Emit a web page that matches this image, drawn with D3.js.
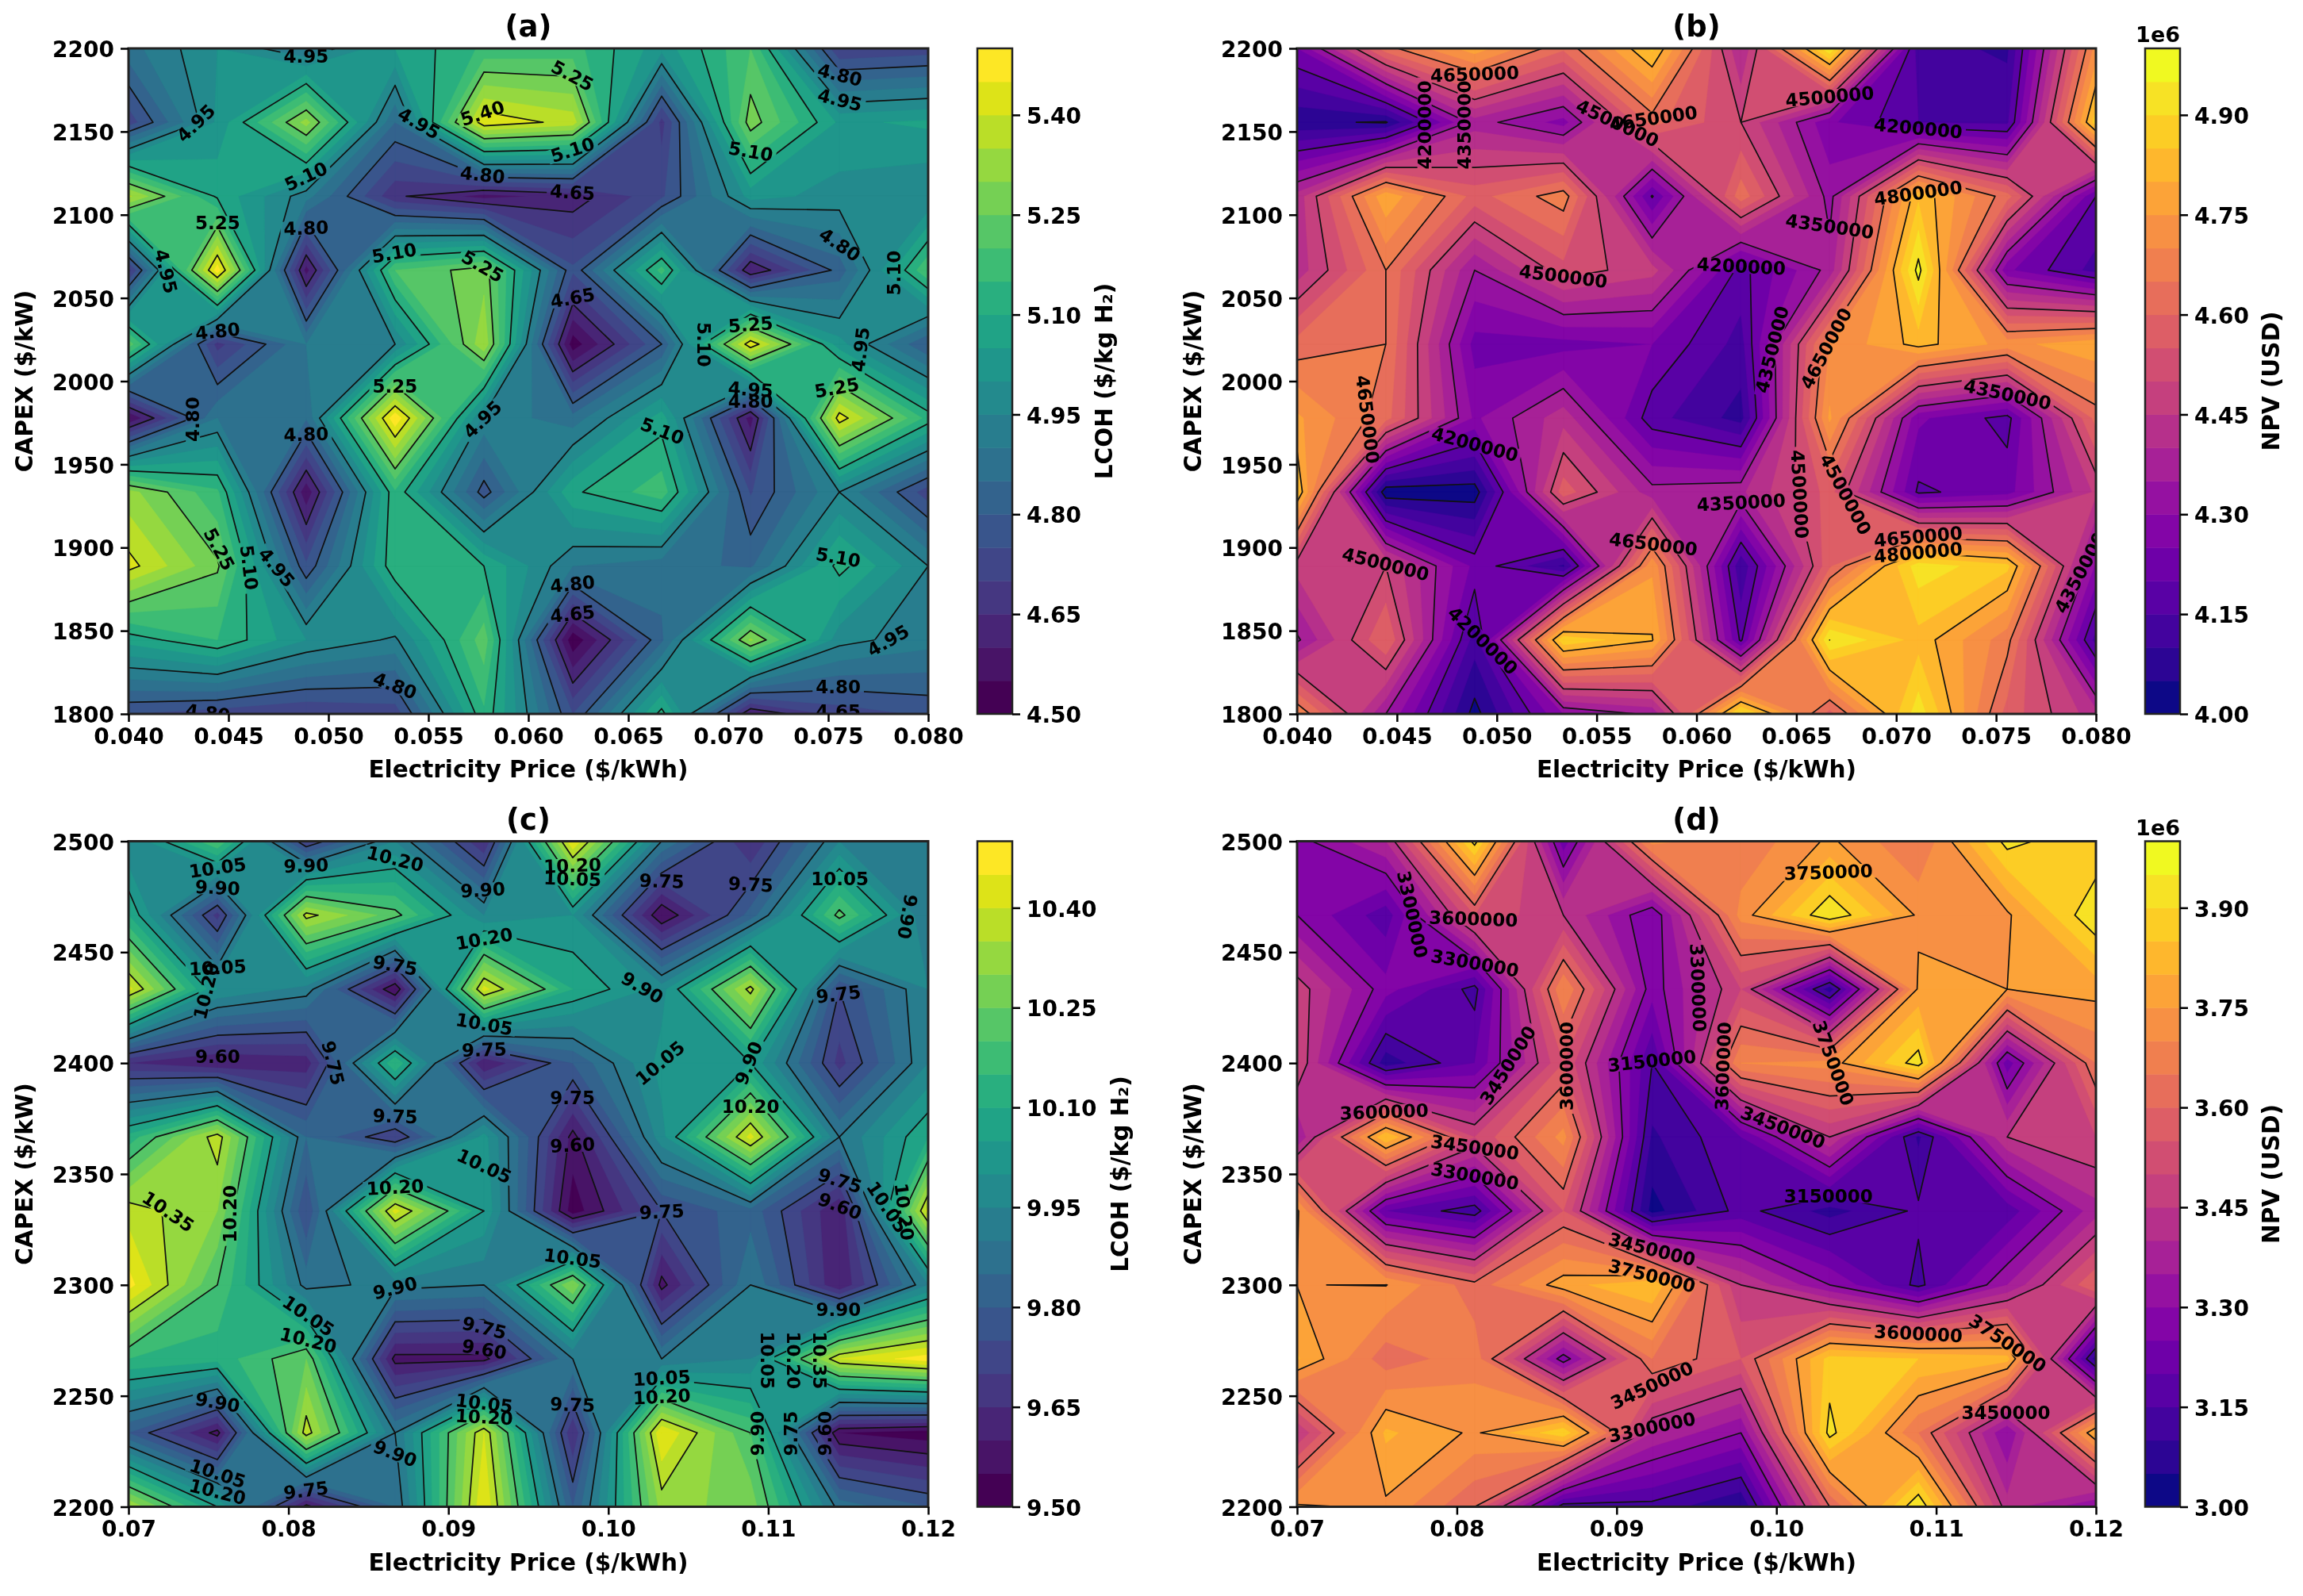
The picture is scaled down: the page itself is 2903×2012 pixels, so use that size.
<!DOCTYPE html>
<html>
<head>
<meta charset="utf-8">
<script src="https://cdn.jsdelivr.net/npm/d3@7"></script>
<style>
  html, body { margin: 0; background: #fff; }
  svg { filter: blur(0.6px); }
  text { font-family: "DejaVu Sans", sans-serif; font-weight: bold; fill: #000; }
  .tick line { stroke: #000; stroke-width: 2.5; }
  .tick text { font-size: 28px; }
  .clabel { font-size: 23px; text-anchor: middle; dominant-baseline: central; }
</style>
</head>
<body>
<svg id="fig" width="2903" height="2012"></svg>
<script>
// grids are written top row first, same way they look on the picture
const gridA = [
  [4.88, 5.00, 4.90, 5.05, 5.16, 5.17, 5.02, 5.20, 4.70, 4.72],
  [4.72, 5.01, 5.32, 4.85, 5.44, 5.38, 4.68, 5.28, 5.04, 5.06],
  [5.36, 5.09, 4.92, 4.66, 4.58, 4.62, 4.74, 5.02, 4.98, 4.95],
  [4.68, 5.48, 4.58, 5.20, 5.28, 4.76, 5.17, 4.60, 4.82, 5.20],
  [5.23, 4.68, 4.90, 4.95, 5.34, 4.52, 4.80, 5.44, 5.02, 4.80],
  [4.55, 4.90, 4.855, 5.49, 4.935, 4.87, 5.075, 4.575, 5.43, 5.13],
  [5.32, 5.16, 4.564, 5.14, 4.775, 5.09, 5.18, 4.745, 4.95, 4.72],
  [5.42, 5.26, 4.76, 5.14, 5.10, 4.90, 4.87, 4.84, 5.12, 4.95],
  [5.07, 5.15, 5.00, 4.94, 5.23, 4.51, 4.84, 5.31, 4.97, 4.92],
  [4.75, 4.72, 4.70, 4.72, 5.14, 4.75, 5.12, 4.60, 4.72, 4.76]
];
const gridB = [
  [4.25, 4.63, 4.78, 4.61, 4.86, 4.40, 4.95, 4.12, 4.09, 4.72],
  [4.06, 4.045, 4.375, 4.28, 4.62, 4.50, 4.26, 4.15, 4.14, 4.88],
  [4.42, 4.79, 4.58, 4.68, 4.195, 4.63, 4.33, 4.84, 4.62, 4.20],
  [4.42, 4.65, 4.35, 4.53, 4.47, 4.18, 4.37, 4.97, 4.26, 4.13],
  [4.62, 4.65, 4.23, 4.23, 4.25, 4.13, 4.70, 4.82, 4.73, 4.79],
  [4.76, 4.62, 4.29, 4.43, 4.17, 4.08, 4.76, 4.26, 4.18, 4.62],
  [4.85, 4.01, 4.02, 4.58, 4.37, 4.39, 4.57, 4.19, 4.23, 4.46],
  [4.47, 4.50, 4.235, 4.09, 4.74, 4.11, 4.59, 4.93, 4.865, 4.29],
  [4.34, 4.60, 4.125, 4.89, 4.805, 4.19, 4.95, 4.83, 4.67, 4.13],
  [4.70, 4.35, 4.03, 4.30, 4.36, 4.92, 4.58, 4.93, 4.58, 4.42]
];
const gridC = [
  [9.95, 10.20, 9.70, 9.95, 9.65, 10.45, 9.90, 9.65, 9.95, 9.92],
  [10.10, 9.68, 10.37, 10.22, 9.95, 10.00, 9.55, 9.82, 10.22, 9.90],
  [10.42, 10.00, 9.93, 9.55, 10.42, 10.10, 9.98, 10.37, 9.75, 9.95],
  [9.65, 9.60, 9.62, 10.15, 9.60, 9.80, 10.02, 10.05, 9.68, 9.95],
  [10.12, 10.38, 9.85, 9.70, 10.02, 9.58, 9.98, 10.42, 9.90, 10.10],
  [10.38, 10.30, 9.75, 10.42, 10.05, 9.52, 9.75, 9.83, 9.60, 10.42],
  [10.47, 10.20, 9.88, 9.92, 9.90, 10.30, 9.58, 9.90, 9.60, 9.95],
  [10.15, 10.12, 10.25, 9.58, 9.58, 9.90, 9.90, 9.95, 10.40, 10.48],
  [9.80, 9.58, 10.38, 9.90, 10.40, 9.65, 10.45, 10.20, 9.55, 9.52],
  [10.35, 10.05, 9.58, 9.85, 10.45, 9.80, 10.32, 10.28, 9.88, 9.80]
];
const gridD = [
  [3.28, 3.40, 3.92, 3.22, 3.72, 3.66, 3.76, 3.65, 3.92, 3.85],
  [3.30, 3.17, 3.55, 3.45, 3.25, 3.72, 3.95, 3.74, 3.74, 3.95],
  [3.48, 3.27, 3.13, 3.70, 3.27, 3.50, 3.07, 3.76, 3.75, 3.77],
  [3.50, 3.07, 3.20, 3.55, 3.15, 3.70, 3.72, 3.93, 3.22, 3.65],
  [3.35, 3.85, 3.50, 3.72, 3.09, 3.20, 3.45, 3.09, 3.45, 3.50],
  [3.76, 3.20, 3.12, 3.55, 3.03, 3.17, 3.08, 3.16, 3.17, 3.38],
  [3.749, 3.752, 3.62, 3.78, 3.85, 3.45, 3.30, 3.134, 3.35, 3.60],
  [3.806, 3.62, 3.68, 3.27, 3.65, 3.55, 3.87, 3.85, 3.82, 3.07],
  [3.45, 3.81, 3.74, 3.89, 3.40, 3.30, 3.92, 3.65, 3.30, 3.80],
  [3.76, 3.74, 3.60, 3.12, 3.13, 3.05, 3.60, 3.95, 3.42, 3.30]
];

const linesA = [4.65, 4.80, 4.95, 5.10, 5.25, 5.40];
const linesB = [4.05, 4.20, 4.35, 4.50, 4.65, 4.80, 4.95];
const linesC = [9.60, 9.75, 9.90, 10.05, 10.20, 10.35];
const linesD = [3.15, 3.30, 3.45, 3.60, 3.75, 3.90];

const xTicksTop = [0.040, 0.045, 0.050, 0.055, 0.060, 0.065, 0.070, 0.075, 0.080];
const xTicksBottom = [0.07, 0.08, 0.09, 0.10, 0.11, 0.12];
const yTicksTop = [1800, 1850, 1900, 1950, 2000, 2050, 2100, 2150, 2200];
const yTicksBottom = [2200, 2250, 2300, 2350, 2400, 2450, 2500];
const barTicksA = [4.50, 4.65, 4.80, 4.95, 5.10, 5.25, 5.40];
const barTicksB = [4.00, 4.15, 4.30, 4.45, 4.60, 4.75, 4.90];
const barTicksC = [9.50, 9.65, 9.80, 9.95, 10.10, 10.25, 10.40];
const barTicksD = [3.00, 3.15, 3.30, 3.45, 3.60, 3.75, 3.90];

// inline contour labels: price, capex, level, rotation
const labelsA = [
  [.04888,2195,4.95,0],[.0622,2183.6,5.25,28],[.07558,2184,4.80,14],[.07558,2169,4.95,14],
  [.04337,2155,4.95,-44],[.05453,2155,4.95,30],[.05771,2161,5.40,-18],[.06221,2139,5.10,-18],
  [.07112,2138,5.10,10],[.04888,2123,5.10,-25],[.05771,2124,4.80,6],[.06221,2113.5,4.65,4],
  [.04446,2095,5.25,0],[.04888,2092,4.80,-2],[.07558,2082,4.80,34],[.04187,2066,4.95,76],
  [.05329,2077,5.10,-10],[.05771,2069,5.25,30],[.07831,2065,5.10,-90],[.06221,2050,4.65,-10],
  [.07112,2034,5.25,-4],[.06876,2022,5.10,90],[.04446,2030,4.80,-6],[.07662,2019,4.95,-83],
  [.07112,1995,4.95,4],[.07112,1988,4.80,0],[.07543,1996,5.25,-10],[.05333,1997,5.25,0],
  [.04322,1977,4.80,-90],[.04888,1968,4.80,-2],[.05771,1977,4.95,-44],[.0667,1970,5.10,21],
  [.04453,1899,5.25,62],[.04603,1888,5.10,83],[.04741,1888,4.95,50],[.0755,1894,5.10,10],
  [.06221,1878,4.80,-6],[.06221,1860,4.65,-6],[.0780,1844,4.95,-30],[.05333,1817,4.80,21],
  [.0755,1816,4.80,0],[.0755,1801.5,4.65,0],[.04397,1800.6,4.80,7]
];
const labelsB = [
  [.0489,2184.5,4.65,-2],[.04638,2154,4.20,-90],[.0484,2154,4.35,-90],[.05604,2155,4.50,25],
  [.05784,2158,4.65,-8],[.06667,2171,4.50,-5],[.0711,2152,4.20,5],[.0711,2113,4.80,-8],
  [.06667,2093,4.35,8],[.05333,2063,4.50,7],[.06224,2069,4.20,3],[.06379,2019,4.35,-76],
  [.06649,2019.6,4.65,-62],[.04353,1977,4.65,83],[.07557,1992,4.35,12],[.0489,1962,4.20,15],
  [.06516,1932,4.50,87],[.06746,1932,4.50,62],[.06224,1927,4.35,-3],[.05784,1902,4.65,7],
  [.0711,1906.5,4.65,-5],[.0711,1897,4.80,-5],[.04443,1890,4.50,14],[.07921,1885,4.35,-62],
  [.0493,1844,4.20,44]
];
const labelsC = [
  [.07557,2488,10.05,-8],[.07557,2479,9.90,3],[.0811,2489,9.90,-2],[.08667,2492,10.20,14],
  [.09776,2489,10.20,-2],[.09776,2483,10.05,2],[.09215,2478,9.90,-3],[.10334,2482,9.75,2],
  [.1089,2480.5,9.75,3],[.11448,2483,10.05,0],[.1187,2466,9.90,100],[.09224,2456,10.20,-10],
  [.07557,2443,10.05,-3],[.07487,2432.5,10.20,-76],[.08667,2444,9.75,10],[.10212,2434,9.90,30],
  [.11439,2431,9.75,-7],[.09224,2417.5,10.05,10],[.09224,2406,9.75,-2],[.07557,2403,9.60,0],
  [.08278,2400,9.75,76],[.10324,2400,10.05,-40],[.10877,2400,9.90,-68],[.09776,2384.5,9.75,0],
  [.08667,2376,9.75,2],[.1089,2380.5,10.20,0],[.09776,2363,9.60,-3],[.09224,2353.5,10.05,25],
  [.08667,2344,10.20,-3],[.07637,2332,10.20,-90],[.07248,2333,10.35,34],[.10334,2333,9.75,-3],
  [.11448,2347,9.75,18],[.11448,2335.5,9.60,21],[.11743,2335,10.05,56],[.1185,2333,10.20,83],
  [.09776,2312,10.05,7],[.08667,2298.6,9.90,-14],[.11439,2288.7,9.90,0],[.08124,2286,10.05,34],
  [.08124,2275,10.20,14],[.09224,2280.6,9.75,14],[.09224,2271,9.60,10],[.10994,2266,10.05,90],
  [.11158,2266,10.20,90],[.11322,2266,10.35,90],[.10334,2258,10.05,-3],[.10334,2249.6,10.20,-3],
  [.07557,2247,9.90,10],[.09224,2246.6,10.05,7],[.09224,2240.4,10.20,3],[.09776,2246,9.75,2],
  [.10933,2233,9.90,-90],[.11144,2233,9.75,-90],[.11354,2233,9.60,-90],[.08667,2224,9.90,21],
  [.07557,2215,10.05,18],[.07557,2206.7,10.20,14],[.0811,2207.4,9.75,-7]
];
const labelsD = [
  [.07721,2467,3.30,78],[.08104,2465,3.60,2],[.08113,2445,3.30,10],[.10325,2486,3.75,-2],
  [.09509,2434,3.30,88],[.10356,2400,3.75,70],[.09667,2398.6,3.60,-88],[.09221,2401,3.15,-6],
  [.0832,2399,3.45,-58],[.08689,2398.6,3.60,-90],[.07545,2378,3.60,-2],[.08113,2362,3.45,8],
  [.08113,2349,3.30,10],[.10041,2371,3.45,21],[.10325,2340,3.15,0],[.09221,2316,3.45,14],
  [.09221,2304,3.75,14],[.10888,2278,3.60,3],[.11447,2273.7,3.75,34],[.09221,2254.7,3.45,-25],
  [.09221,2235.8,3.30,-12],[.11437,2242.5,3.45,0]
];

const svg = d3.select('#fig');
const fmt2 = v => v.toFixed(2);
const fmtUsd = v => String(Math.round(v * 1e6));

// marching squares with saddles settled by the cell mean, the way matplotlib does.
// d3.contours always breaks saddles the same way and joins the wrong peaks here.
function walkCells(rows, t, onCell) {
  const n = rows.length;
  for (let j = 0; j < n - 1; j++) {
    for (let i = 0; i < n - 1; i++) {
      const c = [[i, j], [i + 1, j], [i + 1, j + 1], [i, j + 1]];
      const z = c.map(q => rows[q[1]][q[0]]);
      const cross = k => {
        const m = (k + 1) % 4;
        if ((z[k] >= t) === (z[m] >= t)) return null;
        const f = (t - z[k]) / (z[m] - z[k]);
        return [c[k][0] + f * (c[m][0] - c[k][0]), c[k][1] + f * (c[m][1] - c[k][1])];
      };
      onCell(c, z, cross, d3.mean(z) >= t);
    }
  }
}

function drawPoly(ctx, pts, sx, sy) {
  pts.forEach((q, i) => i ? ctx.lineTo(sx(q[0]), sy(q[1])) : ctx.moveTo(sx(q[0]), sy(q[1])));
  ctx.closePath();
}

function bandPath(rows, t, sx, sy) {
  const ctx = d3.path();
  walkCells(rows, t, (c, z, cross, midUp) => {
    const up = z.map(v => v >= t);
    if (!up.some(Boolean)) return;
    const saddle = up[0] === up[2] && up[1] === up[3] && up[0] !== up[1];
    if (saddle && !midUp) {
      // two separate corners
      up.forEach((u, k) => {
        if (u) drawPoly(ctx, [c[k], cross(k), cross((k + 3) % 4)], sx, sy);
      });
      return;
    }
    const pts = [];
    for (let k = 0; k < 4; k++) {
      if (up[k]) pts.push(c[k]);
      const e = cross(k);
      if (e) pts.push(e);
    }
    drawPoly(ctx, pts, sx, sy);
  });
  return ctx.toString();
}

function linePath(rows, t, sx, sy) {
  const ctx = d3.path();
  const seg = (a, b) => { ctx.moveTo(sx(a[0]), sy(a[1])); ctx.lineTo(sx(b[0]), sy(b[1])); };
  walkCells(rows, t, (c, z, cross, midUp) => {
    const e = [0, 1, 2, 3].map(cross);
    const hit = e.filter(Boolean);
    if (hit.length === 2) seg(hit[0], hit[1]);
    else if (hit.length === 4) {
      // edge k runs from corner k; keep the above corners together if the mean is above
      const pair = (z[0] >= t) === midUp;
      if (pair) { seg(e[0], e[1]); seg(e[2], e[3]); }
      else { seg(e[3], e[0]); seg(e[1], e[2]); }
    }
  });
  return ctx.toString();
}

function drawPanel(p) {
  const x = d3.scaleLinear().domain(p.xDomain).range([p.left, p.left + p.w]);
  const y = d3.scaleLinear().domain(p.yDomain).range([p.top + p.h, p.top]);
  const g = svg.append('g');

  g.append('clipPath').attr('id', `clip-${p.id}`)
    .append('rect').attr('x', p.left).attr('y', p.top).attr('width', p.w).attr('height', p.h);

  const n = p.grid.length;
  const rows = p.grid.slice().reverse();
  const gx = d3.scaleLinear().domain([0, n - 1]).range(x.range());
  const gy = d3.scaleLinear().domain([0, n - 1]).range(y.range());

  const fillLevels = d3.range(20).map(i => p.vmin + i * (p.vmax - p.vmin) / 20);
  const plot = g.append('g').attr('clip-path', `url(#clip-${p.id})`);
  plot.selectAll('path.band')
    .data(fillLevels)
    .join('path')
      .attr('class', 'band')
      .attr('d', t => bandPath(rows, t, gx, gy))
      .attr('fill', (d, i) => p.cmap(i / 19))
      .attr('stroke', (d, i) => p.cmap(i / 19))
      .attr('stroke-width', 0.4);

  // labels first so the line mask can use their measured size
  const labels = plot.append('g');
  const texts = labels.selectAll('text')
    .data(p.labels)
    .join('text')
      .attr('class', 'clabel')
      .attr('transform', d => `translate(${x(d[0])},${y(d[1])}) rotate(${d[3]})`)
      .text(d => p.labelFmt(d[2]));

  const mask = g.append('mask').attr('id', `gaps-${p.id}`)
    .attr('maskUnits', 'userSpaceOnUse')
    .attr('x', p.left).attr('y', p.top).attr('width', p.w).attr('height', p.h);
  mask.append('rect').attr('x', p.left).attr('y', p.top).attr('width', p.w).attr('height', p.h).attr('fill', '#fff');
  texts.each(function(d) {
    const len = this.getComputedTextLength() + 8;
    mask.append('rect')
      .attr('x', -len / 2).attr('y', -9).attr('width', len).attr('height', 18)
      .attr('fill', '#000')
      .attr('transform', `translate(${x(d[0])},${y(d[1])}) rotate(${d[3]})`);
  });

  plot.insert('g', 'g').attr('mask', `url(#gaps-${p.id})`)
    .selectAll('path')
    .data(p.lines)
    .join('path')
      .attr('d', t => linePath(rows, t, gx, gy))
      .attr('fill', 'none')
      .attr('stroke', '#111')
      .attr('stroke-linecap', 'round')
      .attr('stroke-width', 1.7);

  g.append('rect').attr('x', p.left).attr('y', p.top).attr('width', p.w).attr('height', p.h)
    .attr('fill', 'none').attr('stroke', '#222').attr('stroke-width', 3);

  const xAxis = g.append('g').attr('transform', `translate(0,${p.top + p.h})`)
    .call(d3.axisBottom(x).tickValues(p.xTicks).tickFormat(p.xFmt).tickSizeInner(10).tickSizeOuter(0).tickPadding(8));
  xAxis.select('.domain').remove();
  const yAxis = g.append('g').attr('transform', `translate(${p.left},0)`)
    .call(d3.axisLeft(y).tickValues(p.yTicks).tickFormat(d3.format('d')).tickSizeInner(10).tickSizeOuter(0).tickPadding(8));
  yAxis.select('.domain').remove();
  yAxis.selectAll('text').attr('dy', '0.38em');

  g.append('text').attr('x', p.left + p.w / 2).attr('y', p.top - 15)
    .attr('text-anchor', 'middle').attr('font-size', 37).text(p.title);
  g.append('text').attr('x', p.left + p.w / 2).attr('y', p.top + p.h + 80)
    .attr('text-anchor', 'middle').attr('font-size', 29.5).text('Electricity Price ($/kWh)');
  g.append('text').attr('transform', `translate(${p.left - 131},${p.top + p.h / 2}) rotate(-90)`)
    .attr('text-anchor', 'middle').attr('dominant-baseline', 'central').attr('font-size', 29.5).text('CAPEX ($/kW)');

  // colorbar
  const barX = p.left + p.w + 62, barW = 44;
  const c = d3.scaleLinear().domain([p.vmin, p.vmax]).range([p.top + p.h, p.top]);
  g.append('g').selectAll('rect')
    .data(fillLevels)
    .join('rect')
      .attr('x', barX).attr('width', barW)
      .attr('y', d => c(d + (p.vmax - p.vmin) / 20))
      .attr('height', (p.h / 20) + 0.5)
      .attr('fill', (d, i) => p.cmap(i / 19));
  g.append('rect').attr('x', barX).attr('y', p.top).attr('width', barW).attr('height', p.h)
    .attr('fill', 'none').attr('stroke', '#222').attr('stroke-width', 2.5);
  const barAxis = g.append('g').attr('transform', `translate(${barX + barW},0)`)
    .call(d3.axisRight(c).tickValues(p.barTicks).tickFormat(fmt2).tickSizeInner(10).tickSizeOuter(0).tickPadding(8));
  barAxis.select('.domain').remove();
  barAxis.selectAll('text').attr('dy', '0.38em');
  g.append('text').attr('transform', `translate(${barX + barW + p.barLabelGap},${p.top + p.h / 2}) rotate(-90)`)
    .attr('text-anchor', 'middle').attr('dominant-baseline', 'central').attr('font-size', 29.5).text(p.barLabel);
  if (p.offset) {
    g.append('text').attr('x', barX + barW).attr('y', p.top - 8)
      .attr('text-anchor', 'end').attr('font-size', 27).text(p.offset);
  }
}

const hPlot = 839, wA = 1008, wB = 1007;
drawPanel({ id: 'a', title: '(a)', left: 162, top: 61, w: wA, h: hPlot, grid: gridA,
  xDomain: [0.04, 0.08], yDomain: [1800, 2200], xTicks: xTicksTop, yTicks: yTicksTop, xFmt: d3.format('.3f'),
  vmin: 4.5, vmax: 5.5, cmap: d3.interpolateViridis, lines: linesA, labels: labelsA, labelFmt: fmt2,
  barTicks: barTicksA, barLabel: 'LCOH ($/kg H\u2082)', barLabelGap: 116 });
drawPanel({ id: 'b', title: '(b)', left: 1635, top: 61, w: wB, h: hPlot, grid: gridB,
  xDomain: [0.04, 0.08], yDomain: [1800, 2200], xTicks: xTicksTop, yTicks: yTicksTop, xFmt: d3.format('.3f'),
  vmin: 4.0, vmax: 5.0, cmap: d3.interpolatePlasma, lines: linesB, labels: labelsB, labelFmt: fmtUsd,
  barTicks: barTicksB, barLabel: 'NPV (USD)', barLabelGap: 115, offset: '1e6' });
drawPanel({ id: 'c', title: '(c)', left: 162, top: 1060.5, w: wA, h: hPlot, grid: gridC,
  xDomain: [0.07, 0.12], yDomain: [2200, 2500], xTicks: xTicksBottom, yTicks: yTicksBottom, xFmt: d3.format('.2f'),
  vmin: 9.5, vmax: 10.5, cmap: d3.interpolateViridis, lines: linesC, labels: labelsC, labelFmt: fmt2,
  barTicks: barTicksC, barLabel: 'LCOH ($/kg H\u2082)', barLabelGap: 136 });
drawPanel({ id: 'd', title: '(d)', left: 1635, top: 1060.5, w: wB, h: hPlot, grid: gridD,
  xDomain: [0.07, 0.12], yDomain: [2200, 2500], xTicks: xTicksBottom, yTicks: yTicksBottom, xFmt: d3.format('.2f'),
  vmin: 3.0, vmax: 4.0, cmap: d3.interpolatePlasma, lines: linesD, labels: labelsD, labelFmt: fmtUsd,
  barTicks: barTicksD, barLabel: 'NPV (USD)', barLabelGap: 115, offset: '1e6' });
</script>
</body>
</html>
